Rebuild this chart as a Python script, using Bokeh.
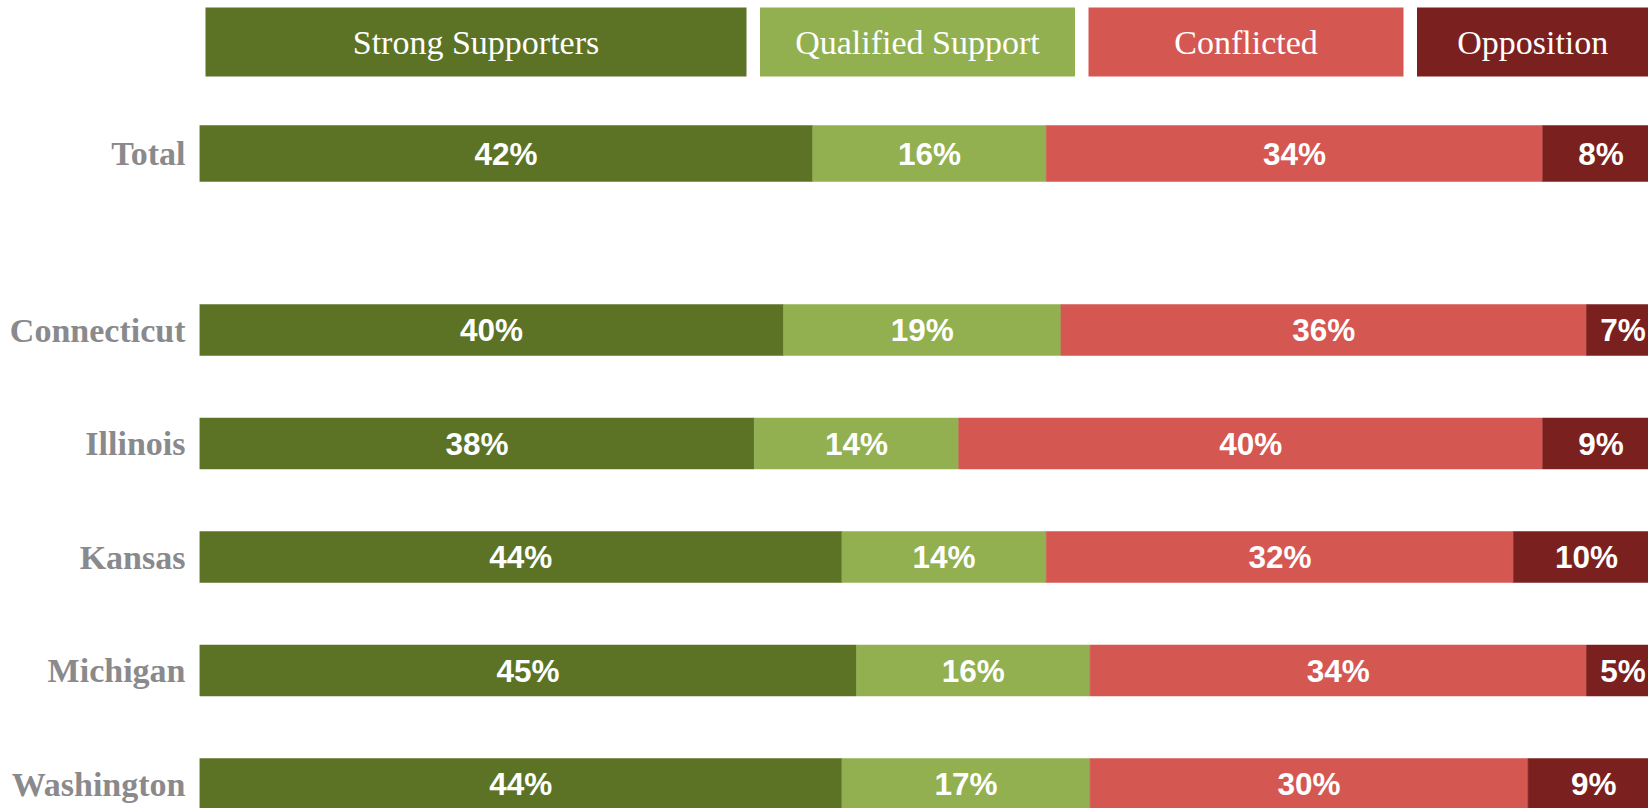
from bokeh.plotting import figure
from bokeh.models import ColumnDataSource, Range1d, FixedTicker, LinearAxis
from bokeh.layouts import column
from bokeh.embed import file_html
from bokeh.resources import INLINE
from bokeh.core.properties import value
import numpy as np

# ---------------- data ----------------
series = ["Strong Supporters", "Qualified Support", "Conflicted", "Opposition"]
colors = ["#5C7326", "#92B050", "#D55752", "#7A211F"]

total_rows = ["Total"]
total_strong = [42]
total_qualified = [16]
total_conflicted = [34]
total_opposition = [8]

states = ["Connecticut", "Illinois", "Kansas", "Michigan", "Washington"]
strong = [40, 38, 44, 45, 44]
qualified = [19, 14, 14, 16, 17]
conflicted = [36, 40, 32, 34, 30]
opposition = [7, 9, 10, 5, 9]

# ---------------- layout constants ----------------
W = 1648
LEFT_BORDER = 199
PX_PER_PCT = 14.6
ROW_PX = 113.5
AXIS_MAX = 100
LABEL_GRAY = "#8A8A8D"


def bar_figure(rows, values, height, first_center_px, bar_px):
    n = len(rows)
    fig = figure(width=W, height=height, output_backend="svg", toolbar_location=None,
                 x_range=Range1d(0, (W - LEFT_BORDER) / PX_PER_PCT),
                 y_range=Range1d((height - first_center_px) / ROW_PX, -first_center_px / ROW_PX),
                 x_axis_type=None, y_axis_type=None,
                 min_border_left=LEFT_BORDER, min_border_right=0,
                 min_border_top=0, min_border_bottom=0)
    fig.grid.visible = False
    fig.outline_line_color = None
    fig.background_fill_color = "white"
    fig.border_fill_color = "white"

    ys = list(range(n))
    left = np.zeros(n)
    for vals, col in zip(values, colors):
        v = np.array(vals, dtype=float)
        right = left + v
        mid = (left + np.minimum(right, AXIS_MAX)) / 2
        src = ColumnDataSource(dict(y=ys, left=left, right=right, mid=mid,
                                    label=[f"{int(x)}%" for x in vals]))
        fig.hbar(y="y", left="left", right="right", height=bar_px / ROW_PX,
                 fill_color=col, line_color=col, line_width=0.5, source=src)
        fig.text(x="mid", y="y", text="label", source=src, text_color="white",
                 text_font=value("Liberation Sans"), text_font_style="bold",
                 text_font_size="31.5px", text_align="center", text_baseline="middle")
        left = right

    ax = LinearAxis(ticker=FixedTicker(ticks=ys),
                    major_label_overrides={i: r for i, r in enumerate(rows)})
    ax.axis_line_color = None
    ax.major_tick_line_color = None
    ax.minor_tick_line_color = None
    ax.major_tick_in = 0
    ax.major_tick_out = 0
    ax.major_label_standoff = 14
    ax.major_label_text_font = "Liberation Serif"
    ax.major_label_text_font_style = "bold"
    ax.major_label_text_font_size = "34px"
    ax.major_label_text_color = LABEL_GRAY
    fig.add_layout(ax, "left")
    return fig


# ---------------- legend ----------------
LEG_H = 100
leg = figure(width=W, height=LEG_H, output_backend="svg", toolbar_location=None,
             x_range=Range1d(LEFT_BORDER, W), y_range=Range1d(LEG_H, 0),
             x_axis_type=None, y_axis_type=None,
             min_border_left=LEFT_BORDER, min_border_right=0,
             min_border_top=0, min_border_bottom=0)
leg.grid.visible = False
leg.outline_line_color = None

leg_widths = [541, 315, 315, 240]
leg_gap = 13.5
leg_x0 = 205
leg_top, leg_bottom = 7, 76
lefts = []
x = leg_x0
for w in leg_widths:
    lefts.append(x)
    x += w + leg_gap
rights = [l + w for l, w in zip(lefts, leg_widths)]
lsrc = ColumnDataSource(dict(left=lefts, right=rights,
                             cx=[(l + min(r, W)) / 2 for l, r in zip(lefts, rights)],
                             cy=[(leg_top + leg_bottom) / 2] * len(series),
                             name=series, color=colors))
leg.quad(left="left", right="right", top=leg_top, bottom=leg_bottom,
         fill_color="color", line_color=None, source=lsrc)
leg.text(x="cx", y="cy", text="name", source=lsrc, text_color="white",
         text_font=value("Liberation Serif"), text_font_size="34px",
         text_align="center", text_baseline="middle")

# ---------------- bars ----------------
total_fig = bar_figure(total_rows,
                       [total_strong, total_qualified, total_conflicted, total_opposition],
                       height=140, first_center_px=53, bar_px=56)
states_fig = bar_figure(states, [strong, qualified, conflicted, opposition],
                        height=568, first_center_px=89.5, bar_px=51)

layout = column(leg, total_fig, states_fig, spacing=0)
open("out.html", "w").write(file_html(layout, INLINE))
